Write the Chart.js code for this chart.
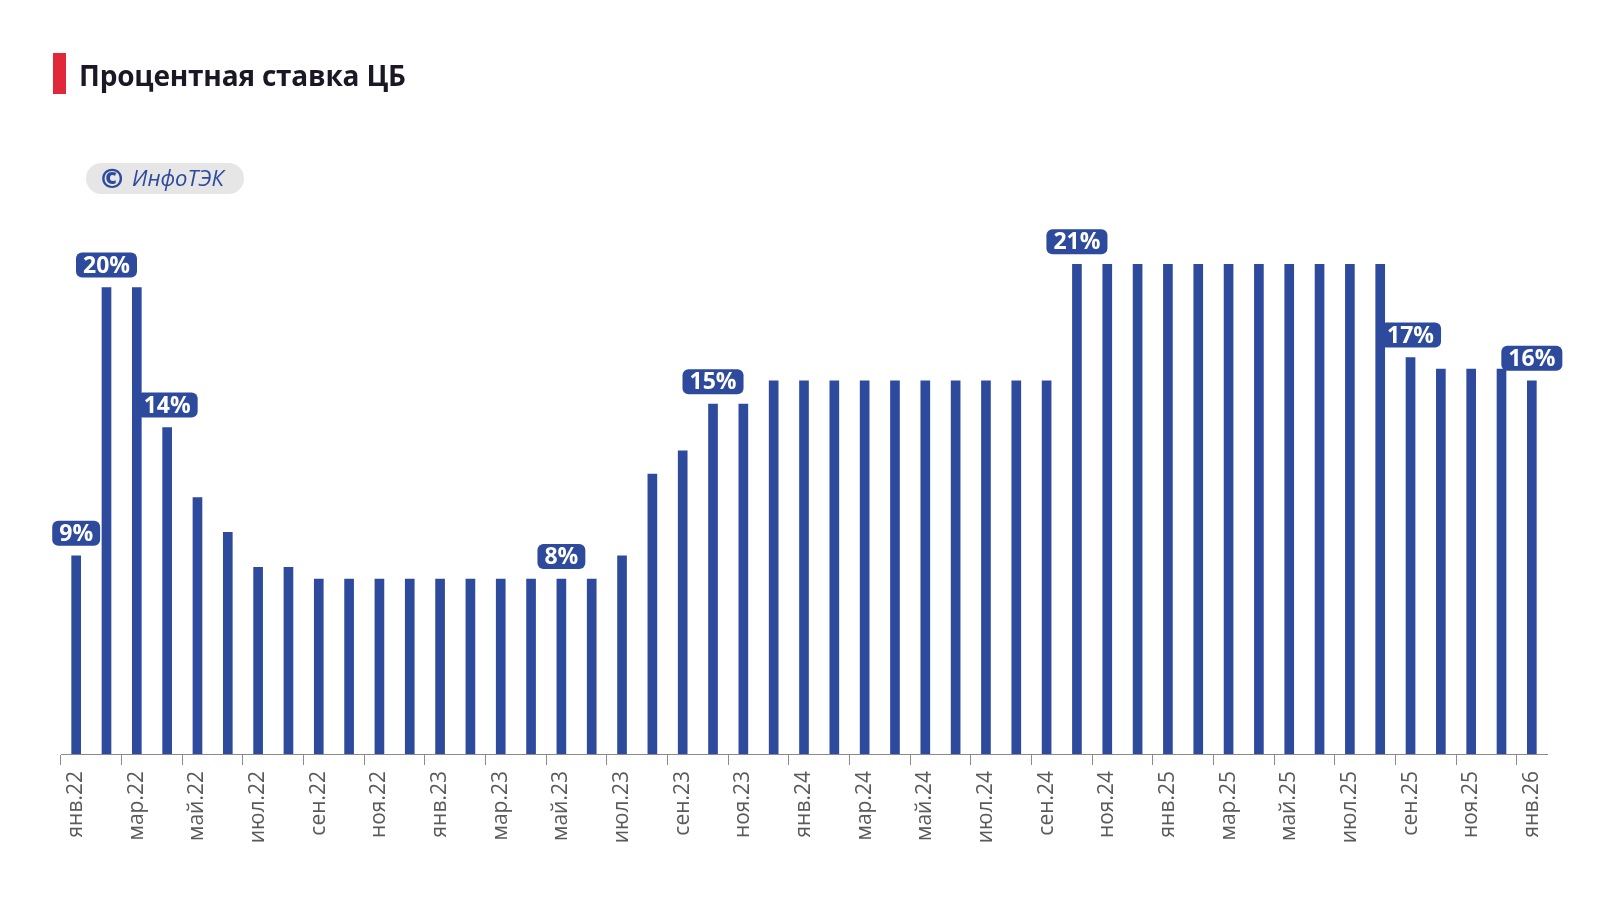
<!DOCTYPE html>
<html lang="ru">
<head>
<meta charset="utf-8">
<script src="https://cdn.jsdelivr.net/npm/chart.js@4/dist/chart.umd.min.js"></script>
<style>
    body { margin: 0; background: #fff; }
    #wrap { position: relative; width: 1600px; height: 900px; }
    #rate { position: absolute; left: 0; top: 0; }
    .mark { position: absolute; left: 53px; top: 53px; width: 13px; height: 41px; background: #e0283a; }
    .title { position: absolute; left: 79px; top: 56px; font: bold 28px "Open Sans", sans-serif; color: #1b1725; white-space: nowrap; letter-spacing: -0.2px; }
    .stamp { position: absolute; left: 86px; top: 163px; width: 158px; height: 31px; border-radius: 16px; background: #e6e6e6;
             color: #2e4a9c; font: 22px "Open Sans", sans-serif; line-height: 31px; white-space: nowrap; }
    .stamp b { position: absolute; left: 15px; top: -1px; font-size: 27px; font-weight: 800; }
    .stamp i { position: absolute; left: 46px; top: -1px; }
</style>
</head>
<body>
<div id="wrap">
    <canvas id="rate" width="1600" height="900"></canvas>
    <div class="mark"></div>
    <div class="title">Процентная ставка ЦБ</div>
    <div class="stamp"><b>©</b><i>ИнфоТЭК</i></div>
</div>
<script>
// Months, Jan 2022 .. Jan 2026
const months = [
    'янв.22', 'фев.22', 'мар.22', 'апр.22', 'май.22', 'июн.22', 'июл.22', 'авг.22', 'сен.22', 'окт.22', 'ноя.22', 'дек.22',
    'янв.23', 'фев.23', 'мар.23', 'апр.23', 'май.23', 'июн.23', 'июл.23', 'авг.23', 'сен.23', 'окт.23', 'ноя.23', 'дек.23',
    'янв.24', 'фев.24', 'мар.24', 'апр.24', 'май.24', 'июн.24', 'июл.24', 'авг.24', 'сен.24', 'окт.24', 'ноя.24', 'дек.24',
    'янв.25', 'фев.25', 'мар.25', 'апр.25', 'май.25', 'июн.25', 'июл.25', 'авг.25', 'сен.25', 'окт.25', 'ноя.25', 'дек.25',
    'янв.26'
];

// Key rate, %
const rates = [
    8.5, 20, 20, 14, 11, 9.5, 8, 8, 7.5, 7.5, 7.5, 7.5,
    7.5, 7.5, 7.5, 7.5, 7.5, 7.5, 8.5, 12, 13, 15, 15, 16,
    16, 16, 16, 16, 16, 16, 16, 16, 16, 21, 21, 21,
    21, 21, 21, 21, 21, 21, 21, 21, 17, 16.5, 16.5, 16.5,
    16
];

// Callouts above selected bars
const calloutIndex = [0, 1, 3, 16, 21, 33, 44, 48];
const calloutText = ['9%', '20%', '14%', '8%', '15%', '21%', '17%', '16%'];

const BLUE = '#2d4a9c';

// Draw rounded value boxes above bars
const calloutPlugin = {
    id: 'callouts',
    afterDatasetsDraw(chart) {
        const ctx = chart.ctx;
        const bars = chart.getDatasetMeta(0).data;
        ctx.save();
        ctx.font = 'bold 23px "Open Sans", sans-serif';
        ctx.textAlign = 'center';
        ctx.textBaseline = 'middle';
        calloutIndex.forEach((idx, i) => {
            const bar = bars[idx];
            const text = calloutText[i];
            const w = ctx.measureText(text).width + 14;
            const h = 25;
            const x = bar.x - w / 2;
            const y = bar.y - 10 - h;
            ctx.fillStyle = BLUE;
            ctx.beginPath();
            ctx.roundRect(x, y, w, h, 6);
            ctx.fill();
            ctx.fillStyle = '#fff';
            ctx.fillText(text, bar.x, y + h / 2 + 1);
        });
        ctx.restore();
    }
};

new Chart(document.getElementById('rate').getContext('2d'), {
    type: 'bar',
    data: {
        labels: months,
        datasets: [{
            data: rates,
            backgroundColor: BLUE,
            barThickness: 9
        }]
    },
    options: {
        responsive: false,
        animation: false,
        layout: {
            padding: { left: 61, right: 53, top: 101, bottom: 0 }
        },
        plugins: {
            legend: { display: false },
            tooltip: { enabled: false }
        },
        scales: {
            x: {
                afterFit(scale) {
                    scale.height = 146;
                },
                border: {
                    display: true,
                    color: '#8a8a8a',
                    width: 1
                },
                grid: {
                    drawOnChartArea: false,
                    drawTicks: true,
                    tickLength: 11,
                    color: (c) => (c.index % 2 === 0 ? '#8a8a8a' : 'rgba(0,0,0,0)')
                },
                ticks: {
                    autoSkip: false,
                    minRotation: 90,
                    maxRotation: 90,
                    padding: 6,
                    color: '#5a5a5a',
                    font: { family: '"Open Sans", sans-serif', size: 21 },
                    callback: function (value, index) {
                        return index % 2 === 0 ? this.getLabelForValue(value) : '';
                    }
                }
            },
            y: {
                display: false,
                min: 0,
                max: 28
            }
        }
    },
    plugins: [calloutPlugin]
});
</script>
</body>
</html>
